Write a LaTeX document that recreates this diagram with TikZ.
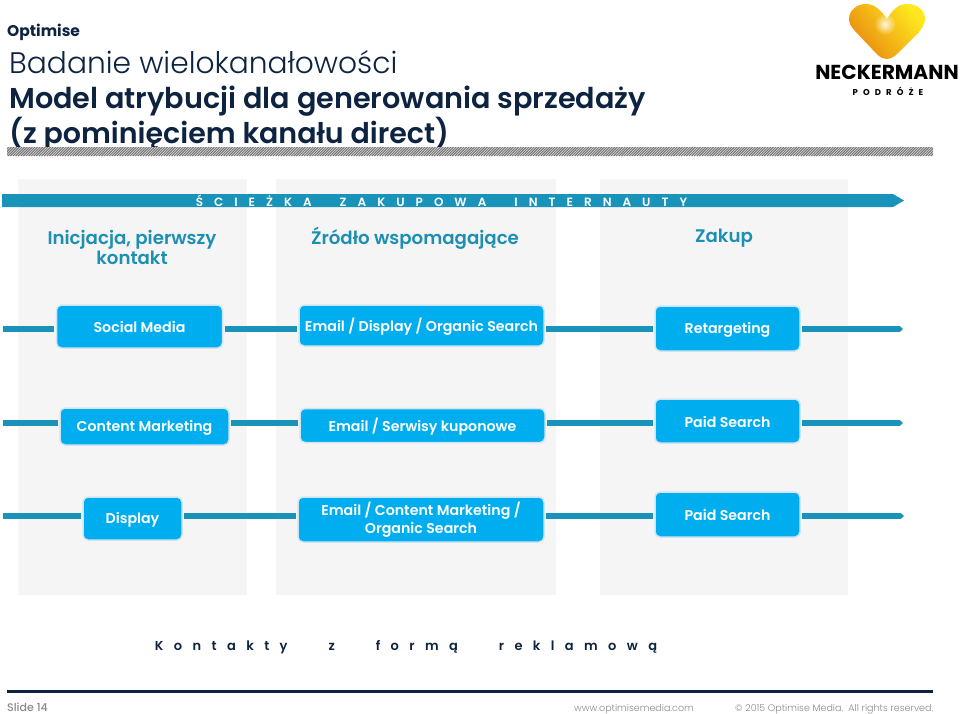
\documentclass[tikz,border=0pt]{standalone}
\usepackage{fontspec}
\setmainfont{Poppins}[UprightFont={* Medium},BoldFont={* Bold}]
\newfontfamily\lightf{Poppins}[UprightFont={* Light}]
\newfontfamily\semif{Poppins}[UprightFont={* SemiBold}]
\newfontfamily\spacedf{Poppins}[UprightFont={* SemiBold},LetterSpace=80]
\newfontfamily\spacede{Poppins}[UprightFont={* SemiBold},LetterSpace=92]
\newfontfamily\spacedg{Poppins}[UprightFont={* Bold},LetterSpace=60]
\usetikzlibrary{arrows.meta,fadings}
\tikzfading[name=heartglow,inner color=transparent!15,outer color=transparent!100]
\definecolor{navy}{HTML}{0D2340}
\definecolor{teal}{HTML}{1A93BB}
\definecolor{headteal}{HTML}{1C8FB3}
\definecolor{boxblue}{HTML}{00AEEF}
\definecolor{boxedge}{HTML}{CFE5F1}
\definecolor{panel}{HTML}{F5F5F6}
\definecolor{footgray}{HTML}{8A8A8A}
\definecolor{hatchline}{HTML}{777777}
\definecolor{heartlow}{HTML}{E98A0F}
\definecolor{hearthigh}{HTML}{FFE81E}
\newcommand\lowr[2][1pt]{\raisebox{-#1}[\height][\depth]{#2}}
\tikzset{
 x=1pt,y=-1pt,
 stagebox/.style={rounded corners=5pt,fill=boxblue,draw=boxedge,line width=1.5pt,text=white,align=center,inner sep=0pt,font=\semif\fontsize{14.2}{18}\selectfont},
 conn/.style={draw=teal,line width=5.5pt,shorten >=1.5pt,shorten <=1.5pt},
 connend/.style={draw=teal,line width=5.5pt,shorten <=1.5pt,-{Triangle[length=3.5pt,width=6pt]}},
 panelbg/.style={fill=panel,draw=none},
 headlabel/.style={text=headteal,align=center,inner sep=0pt,font=\semif\fontsize{18.2}{20}\selectfont},
 titletext/.style={text=navy,anchor=base west,inner sep=0pt},
 foot/.style={text=footgray,inner sep=0pt,anchor=base west},
}
\begin{document}
\begin{tikzpicture}
\useasboundingbox (0,0) rectangle (960,713);
\fill[white] (0,0) rectangle (960,713);
% panels
\fill[panelbg] (18,179) rectangle (247,595);
\fill[panelbg] (276,179) rectangle (556,595);
\fill[panelbg] (600,179) rectangle (848,595);
% header
\node[titletext,font=\bfseries\fontsize{15.5}{18}\selectfont] (opt) at (7,36) {Optimise};
\node[titletext,font=\lightf\fontsize{29.7}{32}\selectfont] (t1) at (9,73) {Badanie wielokanałowości};
\node[titletext,font=\semif\fontsize{28.7}{32}\selectfont] (t2) at (9,108) {Model atrybucji dla generowania sprzedaży};
\node[titletext,font=\semif\fontsize{28.5}{32}\selectfont] (t3) at (9,143) {(z pominięciem kanału direct)};
% hatch bar
\begin{scope}
\clip (7,147) rectangle (933,156);
\fill[gray!25] (7,147) rectangle (933,156);
\foreach \i in {0,2.6,...,940}{\draw[hatchline,line width=1pt] (\i,156) -- (\i+9,147);}
\end{scope}
% logo
\shade[bottom color=heartlow,top color=hearthigh,shading angle=-50]
 (887,59) .. controls (880,59) and (877,54) .. (872,49) -- (855,31)
 .. controls (851,27) and (849,23) .. (849,19)
 .. controls (849,10) and (857,4) .. (866,4)
 .. controls (874,4) and (880,9) .. (887,19)
 .. controls (893,9) and (899,4) .. (907,4)
 .. controls (917,4) and (925,10) .. (925,19)
 .. controls (925,24) and (922,28) .. (919,32) -- (902,49)
 .. controls (897,54) and (893,59) .. (887,59) -- cycle;
\fill[white,path fading=heartglow] (885,24) circle (11);
\node[inner sep=0pt,text=black,font=\bfseries\fontsize{20.2}{22}\selectfont] (neck) at (887,72) {NECKERMANN};
\node[inner sep=0pt,text=black,font=\spacedg\fontsize{8.5}{10}\selectfont] (pod) at (888,91) {PODRÓŻE};
% banner
\fill[teal] (2,194) -- (893,194) -- (904,200.5) -- (893,207) -- (2,207) -- cycle;
\node[inner sep=0pt,text=white,font=\spacede\fontsize{12}{12}\selectfont] (path) at (441.5,200.5) {ŚCIEŻKA\hspace{28pt}ZAKUPOWA\hspace{28pt}INTERNAUTY};
% heads
\node[headlabel] (h1) at (132,247) {Inicjacja, pierwszy\\kontakt};
\node[headlabel] (h2) at (415,238) {Źródło wspomagające};
\node[headlabel] (h3) at (724,238.5) {Zakup};
% boxes
\node[stagebox,minimum width=166pt,minimum height=43pt] (a1) at (139.5,326.5) {\lowr[0.5pt]{Social Media}};
\node[stagebox,minimum width=245pt,minimum height=41pt] (b1) at (421.5,325.5) {\lowr[1pt]{Email / Display / Organic Search}};
\node[stagebox,minimum width=145pt,minimum height=45pt] (c1) at (727.5,328.5) {\lowr[1pt]{Retargeting}};
\node[stagebox,minimum width=169pt,minimum height=37pt] (a2) at (144.5,426.5) {\lowr[1.5pt]{Content Marketing}};
\node[stagebox,minimum width=245pt,minimum height=34pt] (b2) at (422.5,425.5) {\lowr[1pt]{Email / Serwisy kuponowe}};
\node[stagebox,minimum width=145pt,minimum height=44pt] (c2) at (727.5,421) {\lowr[0.5pt]{Paid Search}};
\node[stagebox,minimum width=99pt,minimum height=43pt] (a3) at (132.5,518.5) {\lowr[1pt]{Display}};
\node[stagebox,minimum width=246pt,minimum height=45pt] (b3) at (421,519.5) {Email / Content Marketing /\\Organic Search};
\node[stagebox,minimum width=145pt,minimum height=45pt] (c3) at (727.5,514.5) {\lowr[0.5pt]{Paid Search}};
% connectors
\coordinate (s1) at (3,329); \coordinate (e1) at (903,329);
\coordinate (s2) at (3,423); \coordinate (e2) at (903,423);
\coordinate (s3) at (3,516); \coordinate (e3) at (904,516);
\foreach \r in {1,2,3}{
 \draw[conn,shorten <=0pt] (s\r) -- (a\r.west |- s\r);
 \draw[conn] (a\r.east |- s\r) -- (b\r.west |- s\r);
 \draw[conn] (b\r.east |- s\r) -- (c\r.west |- s\r);
 \draw[connend] (c\r.east |- s\r) -- (e\r);
}
% bottom label
\node[inner sep=0pt,text=navy,font=\spacedf\fontsize{13}{14}\selectfont] (kont) at (406,647) {Kontakty\hspace{41pt}z\hspace{41pt}formą\hspace{41pt}reklamową};
% footer
\fill[navy] (7,690) rectangle (933,692.6);
\node[foot,font=\fontsize{11}{12}\selectfont] (sl) at (7,711) {Slide 14};
\node[foot,font=\lightf\fontsize{9.5}{12}\selectfont] (www) at (574,711) {www.optimisemedia.com};
\node[foot,font=\lightf\fontsize{9.5}{12}\selectfont] (copy) at (735,711) {© 2015 Optimise Media.\ \ All rights reserved.};
\end{tikzpicture}
\end{document}
